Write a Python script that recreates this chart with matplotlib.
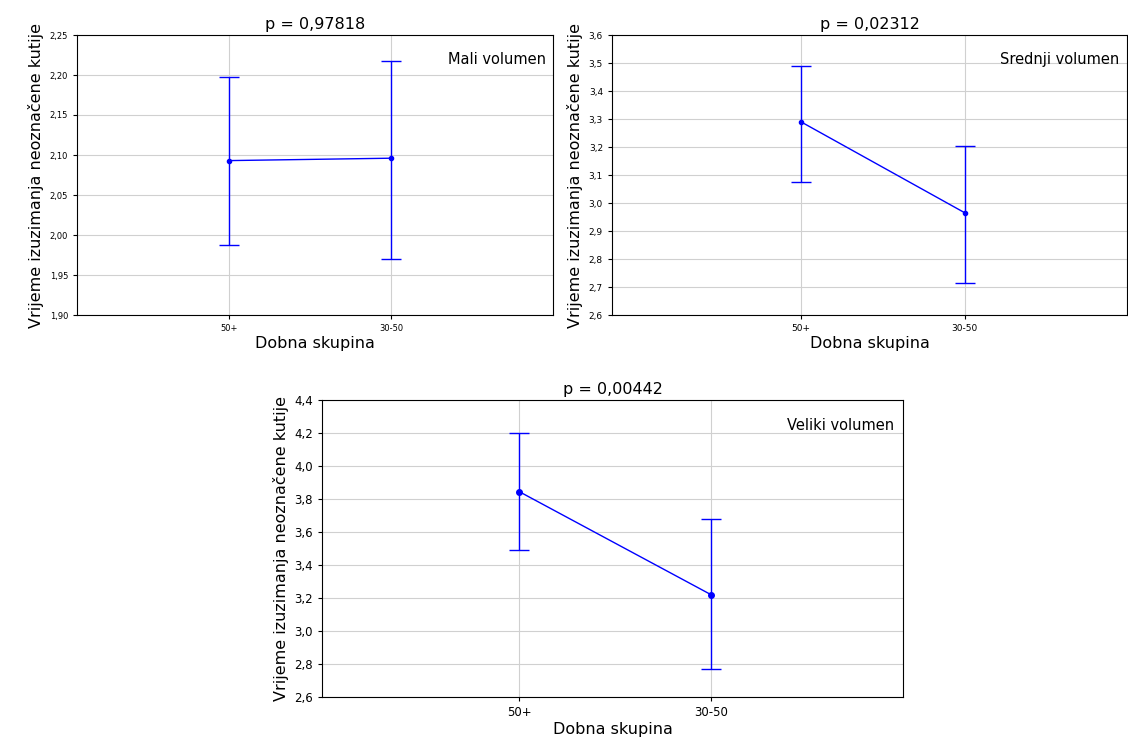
import matplotlib
matplotlib.use("Agg")
import matplotlib.pyplot as plt
from matplotlib.ticker import FuncFormatter
import numpy as np

categories = ["50+", "30-50"]
mali_mean = [2.093, 2.096]
mali_low = [1.987, 1.970]
mali_high = [2.198, 2.218]
srednji_mean = [3.290, 2.965]
srednji_low = [3.075, 2.713]
srednji_high = [3.490, 3.205]
veliki_mean = [3.845, 3.220]
veliki_low = [3.490, 2.770]
veliki_high = [4.200, 3.680]

W, H = 1128, 740
fig = plt.figure(figsize=(W/100, H/100), dpi=100)

def ax_at(x0, y0, x1, y1):
    return fig.add_axes([x0/W, 1-y1/H, (x1-x0)/W, (y1-y0)/H])

def panel(ax, mean, low, high, title, label, xlim, ylim, yticks, dec, tfs, ms):
    xs = [1, 2]
    yerr = [[m-l for m, l in zip(mean, low)], [h-m for m, h in zip(mean, high)]]
    ax.errorbar(xs, mean, yerr=yerr, color="#0000ff", lw=1, capsize=7, capthick=1,
                marker="o", ms=ms, zorder=3)
    ax.set_xlim(*xlim)
    ax.set_ylim(*ylim)
    ax.set_yticks(yticks)
    ax.set_xticks(xs)
    ax.set_xticklabels(categories)
    ax.yaxis.set_major_formatter(FuncFormatter(lambda v, p: f"{v:.{dec}f}".replace(".", ",")))
    ax.grid(True, color="#d0d0d0", lw=0.8)
    ax.set_axisbelow(True)
    ax.tick_params(labelsize=tfs, length=3)
    ax.set_title(title, fontsize=11.5, pad=4)
    ax.set_xlabel("Dobna skupina", fontsize=11.5, labelpad=2)
    ax.set_ylabel("Vrijeme izuzimanja neoznačene kutije", fontsize=11.5, labelpad=4)
    ax.text(0.985, 0.94, label, transform=ax.transAxes, ha="right", va="top", fontsize=10.5)
    for s in ax.spines.values():
        s.set_color("black"); s.set_linewidth(0.8)

a1 = ax_at(77, 35, 553, 315)
panel(a1, mali_mean, mali_low, mali_high, "p = 0,97818", "Mali volumen", (0.064, 2.997),
      (1.90, 2.25), np.arange(1.90, 2.251, 0.05), 2, 6, 3)
a2 = ax_at(612, 35, 1127, 315)
panel(a2, srednji_mean, srednji_low, srednji_high, "p = 0,02312", "Srednji volumen", (-0.153, 2.99),
      (2.6, 3.6), np.arange(2.6, 3.61, 0.1), 1, 6.5, 3)
a3 = ax_at(322, 400, 903, 697)
panel(a3, veliki_mean, veliki_low, veliki_high, "p = 0,00442", "Veliki volumen", (-0.027, 3.0),
      (2.6, 4.4), np.arange(2.6, 4.41, 0.2), 1, 8.5, 4)

fig.savefig("out.png", dpi=100)
